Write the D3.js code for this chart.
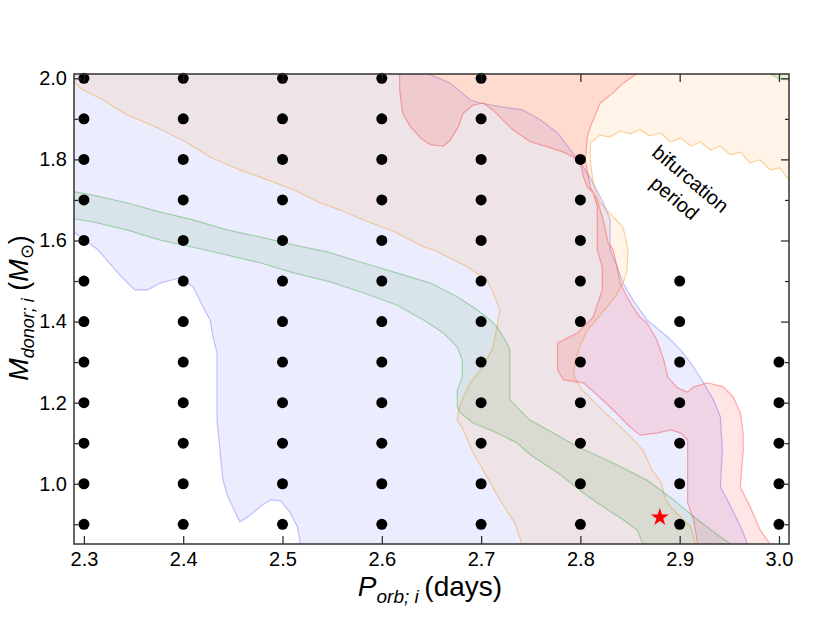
<!DOCTYPE html>
<head>
  <meta charset="utf-8">
  <script src="https://d3js.org/d3.v7.min.js"></script>
  <style>
    body { margin:0; background:#fff; }
    text { font-family: "Liberation Sans", Arial, Helvetica, sans-serif; fill:#000; }
  </style>
</head>

<body>
  <script>
    // grid of computed models
    var periods = [2.3, 2.4, 2.5, 2.6, 2.7, 2.8, 2.9, 3.0];
    var masses = [0.9, 1.0, 1.1, 1.2, 1.3, 1.4, 1.5, 1.6, 1.7, 1.8, 1.9, 2.0];
    var topMass = [2.0, 2.0, 2.0, 2.0, 2.0, 1.8, 1.5, 1.3]; // highest mass run for each period
    var observed = [2.88, 0.917];

    var xTicks = [2.3, 2.4, 2.5, 2.6, 2.7, 2.8, 2.9, 3.0];
    var yMajor = [1.0, 1.2, 1.4, 1.6, 1.8, 2.0];
    var yMinor = [0.9, 1.1, 1.3, 1.5, 1.7, 1.9];

    // region outlines [P, M]
    var blueRegion = [[2.276,2.02],[2.647,2.02],[2.647,2.011],[2.669,1.988],[2.689,1.947],[2.699,1.939],[2.722,1.929],[2.742,1.922],[2.760,1.897],[2.777,1.865],[2.790,1.823],[2.803,1.781],[2.813,1.742],[2.823,1.693],[2.830,1.651],[2.830,1.577],[2.837,1.535],[2.843,1.495],[2.853,1.453],[2.867,1.404],[2.888,1.362],[2.901,1.330],[2.914,1.288],[2.924,1.249],[2.934,1.207],[2.941,1.165],[2.943,1.083],[2.941,0.992],[2.948,0.960],[2.958,0.911],[2.964,0.879],[2.968,0.852],[2.970,0.82],
      [2.518,0.82],[2.518,0.852],[2.515,0.894],[2.508,0.928],[2.498,0.958],[2.488,0.960],[2.480,0.948],[2.464,0.916],[2.457,0.906],[2.445,0.968],[2.440,1.009],[2.437,1.083],[2.434,1.157],[2.434,1.323],[2.430,1.362],[2.427,1.404],[2.420,1.436],[2.410,1.485],[2.397,1.508],[2.377,1.495],[2.364,1.478],[2.351,1.478],[2.336,1.515],[2.314,1.577],[2.301,1.601],[2.290,1.621],[2.276,1.638]];

    var orangeRegion = [[2.276,2.02],[3.022,2.02],[3.022,1.745],[3.010,1.749],[3.001,1.779],[2.991,1.774],[2.981,1.799],[2.971,1.791],[2.961,1.818],[2.951,1.811],[2.941,1.833],[2.931,1.823],[2.921,1.843],[2.911,1.833],[2.901,1.853],[2.891,1.843],[2.881,1.865],[2.870,1.858],[2.860,1.873],[2.850,1.863],[2.840,1.870],[2.830,1.855],[2.820,1.860],[2.810,1.841],
      [2.810,1.799],[2.813,1.737],[2.820,1.693],[2.833,1.658],[2.843,1.633],[2.848,1.577],[2.847,1.527],[2.843,1.495],[2.835,1.461],[2.820,1.416],[2.807,1.379],[2.800,1.342],[2.795,1.305],[2.793,1.268],[2.800,1.236],[2.817,1.194],[2.833,1.157],[2.847,1.125],[2.863,1.083],[2.872,1.034],[2.881,1.005],[2.886,0.960],[2.891,0.943],[2.901,0.918],[2.911,0.894],[2.916,0.852],[2.918,0.82],
      [2.743,0.82],[2.741,0.852],[2.734,0.903],[2.719,0.960],[2.706,1.017],[2.692,1.076],[2.682,1.133],[2.676,1.157],[2.677,1.182],[2.681,1.207],[2.689,1.249],[2.702,1.288],[2.712,1.337],[2.716,1.387],[2.719,1.429],[2.712,1.471],[2.706,1.503],[2.686,1.535],[2.652,1.577],[2.642,1.584],[2.615,1.619],[2.581,1.651],[2.558,1.675],[2.538,1.693],[2.511,1.725],[2.477,1.757],[2.457,1.774],[2.427,1.806],[2.404,1.841],[2.374,1.878],[2.343,1.910],[2.319,1.947],[2.299,1.971],[2.291,1.988],[2.276,2.001]];

    var greenRegion = [[2.276,1.727],[2.291,1.720],[2.309,1.712],[2.343,1.693],[2.377,1.670],[2.410,1.651],[2.444,1.626],[2.477,1.609],[2.511,1.589],[2.545,1.572],[2.581,1.545],[2.615,1.520],[2.649,1.495],[2.676,1.461],[2.696,1.429],[2.709,1.404],[2.716,1.387],[2.726,1.347],[2.729,1.330],[2.729,1.207],[2.736,1.189],[2.749,1.157],[2.767,1.133],[2.790,1.101],[2.800,1.088],[2.833,1.051],[2.867,1.009],[2.894,0.960],[2.918,0.911],[2.941,0.869],[2.951,0.852],[2.961,0.825],
      [2.870,0.825],[2.863,0.852],[2.857,0.886],[2.843,0.911],[2.817,0.953],[2.803,0.977],[2.780,1.022],[2.750,1.071],[2.736,1.101],[2.716,1.125],[2.692,1.150],[2.679,1.175],[2.676,1.189],[2.676,1.231],[2.681,1.263],[2.681,1.305],[2.676,1.337],[2.662,1.372],[2.642,1.404],[2.615,1.441],[2.581,1.471],[2.548,1.498],[2.511,1.520],[2.477,1.545],[2.427,1.574],[2.377,1.601],[2.343,1.626],[2.309,1.646],[2.291,1.653],[2.276,1.660]];

    var greenCorner = [[2.988,2.02],[2.993,2.008],[3.001,1.998],[3.012,1.996],[3.022,2.02]];

    var redRegion = [[2.618,2.05],[2.618,2.011],[2.618,1.971],[2.621,1.914],[2.629,1.880],[2.639,1.853],[2.649,1.836],[2.662,1.833],[2.669,1.848],[2.677,1.880],[2.682,1.914],[2.692,1.934],[2.702,1.939],[2.712,1.922],[2.722,1.897],[2.732,1.873],[2.750,1.843],[2.767,1.831],[2.783,1.818],[2.793,1.806],[2.800,1.791],[2.803,1.757],[2.807,1.732],[2.813,1.717],[2.817,1.683],[2.817,1.633],[2.817,1.577],[2.822,1.535],[2.822,1.478],[2.813,1.411],[2.797,1.372],[2.777,1.347],[2.777,1.313],[2.777,1.281],[2.783,1.256],[2.803,1.249],[2.817,1.219],[2.833,1.182],[2.850,1.140],[2.860,1.120],[2.877,1.125],[2.891,1.133],[2.901,1.125],[2.908,1.108],[2.908,0.992],[2.908,0.953],[2.914,0.911],[2.918,0.852],[2.919,0.825],
      [2.993,0.825],[2.991,0.852],[2.981,0.886],[2.971,0.943],[2.961,0.992],[2.964,1.083],[2.964,1.125],[2.961,1.175],[2.954,1.214],[2.944,1.239],[2.928,1.249],[2.914,1.239],[2.908,1.226],[2.898,1.236],[2.888,1.263],[2.884,1.305],[2.877,1.355],[2.867,1.397],[2.860,1.411],[2.853,1.436],[2.847,1.461],[2.840,1.495],[2.837,1.535],[2.833,1.577],[2.828,1.594],[2.823,1.651],[2.817,1.700],[2.810,1.732],[2.805,1.799],[2.807,1.855],[2.810,1.880],[2.820,1.939],[2.833,1.964],[2.843,1.988],[2.857,2.011],[2.865,2.05]];

    var margin = {top: 74, right: 41, bottom: 79, left: 74};
    var width = 830 - margin.left - margin.right,
        height = 623 - margin.top - margin.bottom;

    var svg = d3.select("body").append("svg")
      .attr("width", 830)
      .attr("height", 623)
      .append("g")
      .attr("transform", "translate(" + margin.left + "," + margin.top + ")");

    var x = d3.scaleLinear().domain([2.29, 3.0101]).range([0, width]);
    var y = d3.scaleLinear().domain([0.8514, 2.0106]).range([height, 0]);

    svg.append("clipPath").attr("id", "plotclip")
      .append("rect").attr("width", width).attr("height", height);

    var area = svg.append("g").attr("clip-path", "url(#plotclip)");
    var line = d3.line().x(function(d) { return x(d[0]); }).y(function(d) { return y(d[1]); });

    var regions = [
      {pts: blueRegion,   fill: "#0000ff", fo: 0.075, stroke: "#3030ff", so: 0.28},
      {pts: orangeRegion, fill: "#ff9a20", fo: 0.11, stroke: "#f5a030", so: 0.45},
      {pts: greenRegion,  fill: "#2ca02c", fo: 0.10, stroke: "#2ca02c", so: 0.35},
      {pts: greenCorner,  fill: "#2ca02c", fo: 0.10, stroke: "#2ca02c", so: 0.35},
      {pts: redRegion,    fill: "#ff0000", fo: 0.10, stroke: "#ff2020", so: 0.35}
    ];

    area.selectAll(".region")
      .data(regions)
      .enter().append("path")
      .attr("class", "region")
      .attr("d", function(d) { return line(d.pts) + "Z"; })
      .style("fill", function(d) { return d.fill; })
      .style("fill-opacity", function(d) { return d.fo; })
      .style("stroke", function(d) { return d.stroke; })
      .style("stroke-opacity", function(d) { return d.so; })
      .style("stroke-width", 1.2)
      .style("stroke-linejoin", "round");

    // model grid dots
    var grid = [];
    periods.forEach(function(p, i) {
      masses.forEach(function(m) {
        if (m <= topMass[i] + 1e-9) grid.push([p, m]);
      });
    });

    svg.selectAll(".dot")
      .data(grid)
      .enter().append("circle")
      .attr("class", "dot")
      .attr("r", 5.5)
      .attr("cx", function(d) { return x(d[0]); })
      .attr("cy", function(d) { return y(d[1]); })
      .style("fill", "#000");

    svg.append("path")
      .attr("d", d3.symbol().type(d3.symbolStar).size(100)())
      .attr("transform", "translate(" + x(observed[0]) + "," + y(observed[1]) + ")")
      .style("fill", "#ff0000");

    // annotation
    var ann = svg.append("g")
      .attr("transform", "translate(" + (683 - margin.left) + "," + (188 - margin.top) + ") rotate(40)");
    ann.append("text").attr("text-anchor", "middle").attr("y", -5).style("font-size", "20px").text("bifurcation");
    ann.append("text").attr("text-anchor", "middle").attr("y", 20).style("font-size", "20px").text("period");

    // axes, ticks pointing in
    function styleAxis(g) {
      g.select(".domain").remove();
      g.selectAll("line").style("stroke", "#222").style("stroke-width", 1.2);
      g.selectAll("text").style("font-size", "20px").style("fill", "#000")
        .style("font-family", '"Liberation Sans", Arial, sans-serif');
    }

    svg.append("g").attr("transform", "translate(0," + height + ")")
      .call(d3.axisBottom(x).tickValues(xTicks).tickSize(-8).tickSizeOuter(0).tickPadding(8).tickFormat(d3.format(".1f")))
      .call(styleAxis);
    svg.append("g")
      .call(d3.axisTop(x).tickValues(xTicks).tickSize(-8).tickSizeOuter(0).tickFormat(""))
      .call(styleAxis);
    svg.append("g")
      .call(d3.axisLeft(y).tickValues(yMajor).tickSize(-8).tickSizeOuter(0).tickPadding(7).tickFormat(d3.format(".1f")))
      .call(styleAxis);
    svg.append("g")
      .call(d3.axisLeft(y).tickValues(yMinor).tickSize(-4).tickSizeOuter(0).tickFormat(""))
      .call(styleAxis);
    svg.append("g").attr("transform", "translate(" + width + ",0)")
      .call(d3.axisRight(y).tickValues(yMajor).tickSize(-8).tickSizeOuter(0).tickFormat(""))
      .call(styleAxis);
    svg.append("g").attr("transform", "translate(" + width + ",0)")
      .call(d3.axisRight(y).tickValues(yMinor).tickSize(-4).tickSizeOuter(0).tickFormat(""))
      .call(styleAxis);

    svg.append("rect")
      .attr("width", width).attr("height", height)
      .style("fill", "none").style("stroke", "#333").style("stroke-width", 1.5);

    // axis labels
    var xl = svg.append("text")
      .attr("x", 430 - margin.left).attr("y", 596 - margin.top)
      .attr("text-anchor", "middle").style("font-size", "28px");
    xl.append("tspan").style("font-style", "italic").text("P");
    xl.append("tspan").style("font-style", "italic").style("font-size", "19px").attr("dy", 7).text("orb; i");
    xl.append("tspan").attr("dy", -7).text("\u2009(days)");

    var yl = svg.append("text")
      .attr("transform", "translate(" + (28 - margin.left) + "," + (308 - margin.top) + ") rotate(-90)")
      .attr("text-anchor", "middle").style("font-size", "27px");
    yl.append("tspan").style("font-style", "italic").text("M");
    yl.append("tspan").style("font-style", "italic").style("font-size", "18px").attr("dy", 6).text("donor; i");
    yl.append("tspan").attr("dy", -6).text(" (");
    yl.append("tspan").style("font-style", "italic").text("M");
    yl.append("tspan").style("font-size", "18px").attr("dy", 5).text("\u2299");
    yl.append("tspan").attr("dy", -5).text(")");
  </script>
</body>
